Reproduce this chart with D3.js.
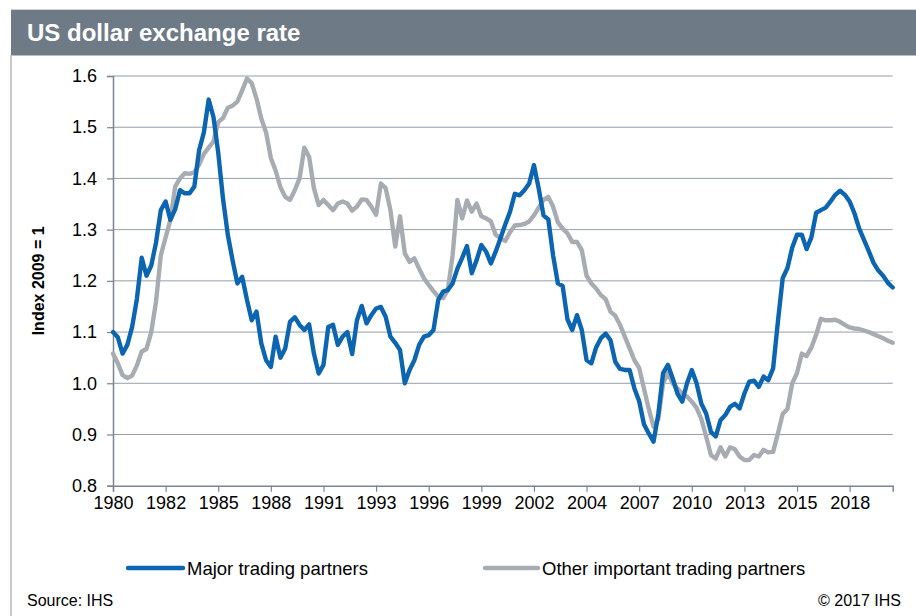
<!DOCTYPE html>
<html>
<head>
<meta charset="utf-8">
<script src="https://cdn.jsdelivr.net/npm/d3@7"></script>
<style>
  html, body { margin: 0; padding: 0; background: #fff; }
  svg { display: block; font-family: "Liberation Sans", Arial, sans-serif; }
</style>
</head>
<body>
<svg id="chart" width="916" height="616"></svg>
<script>
// Quarterly index, 1980Q1 .. 2020Q4 (2009 = 1)
const startYear = 1980;

const majorPartners = [
  1.100, 1.090, 1.058, 1.075, 1.110, 1.165, 1.245, 1.210, 1.230, 1.275,
  1.338, 1.355, 1.319, 1.340, 1.377, 1.371, 1.371, 1.384, 1.455, 1.490,
  1.554, 1.520, 1.450, 1.360, 1.290, 1.240, 1.195, 1.208, 1.163, 1.123,
  1.140, 1.078, 1.045, 1.032, 1.091, 1.050, 1.068, 1.120, 1.129, 1.114,
  1.104, 1.115, 1.058, 1.019, 1.036, 1.110, 1.114, 1.075, 1.091, 1.100,
  1.057, 1.123, 1.151, 1.117, 1.133, 1.146, 1.149, 1.130, 1.091, 1.079,
  1.065, 1.000, 1.026, 1.045, 1.075, 1.091, 1.094, 1.104, 1.163, 1.179,
  1.182, 1.195, 1.224, 1.245, 1.268, 1.215, 1.240, 1.270, 1.257, 1.234,
  1.257, 1.283, 1.310, 1.335, 1.370, 1.367, 1.377, 1.390, 1.426, 1.380,
  1.328, 1.320, 1.250, 1.195, 1.190, 1.125, 1.104, 1.133, 1.104, 1.045,
  1.039, 1.070, 1.088, 1.097, 1.084, 1.042, 1.028, 1.026, 1.026, 0.990,
  0.965, 0.920, 0.902, 0.886, 0.940, 1.020, 1.036, 1.010, 0.980, 0.964,
  1.000, 1.026, 1.000, 0.960, 0.941, 0.905, 0.896, 0.928, 0.938, 0.954,
  0.960, 0.951, 0.980, 1.003, 1.005, 0.993, 1.013, 1.006, 1.029, 1.120,
  1.205, 1.225, 1.265, 1.290, 1.290, 1.262, 1.285, 1.333, 1.338, 1.343,
  1.355, 1.368, 1.376, 1.368, 1.355, 1.332, 1.302, 1.280, 1.258, 1.235,
  1.220, 1.210, 1.196, 1.187
];

const otherPartners = [
  1.058, 1.039, 1.016, 1.010, 1.015, 1.035, 1.062, 1.067, 1.100, 1.160,
  1.250, 1.285, 1.319, 1.384, 1.400, 1.410, 1.409, 1.412, 1.427, 1.448,
  1.460, 1.472, 1.510, 1.518, 1.538, 1.542, 1.550, 1.572, 1.595, 1.586,
  1.556, 1.517, 1.490, 1.440, 1.415, 1.383, 1.364, 1.358, 1.377, 1.400,
  1.460, 1.442, 1.381, 1.348, 1.358, 1.348, 1.338, 1.351, 1.355, 1.351,
  1.337, 1.345, 1.359, 1.358, 1.345, 1.329, 1.390, 1.381, 1.338, 1.267,
  1.326, 1.254, 1.237, 1.244, 1.224, 1.205, 1.192, 1.180, 1.169, 1.166,
  1.182, 1.250, 1.358, 1.322, 1.357, 1.335, 1.351, 1.326, 1.322, 1.316,
  1.290, 1.283, 1.278, 1.295, 1.308, 1.309, 1.311, 1.316, 1.328, 1.343,
  1.358, 1.364, 1.345, 1.314, 1.302, 1.293, 1.276, 1.276, 1.260, 1.210,
  1.195, 1.185, 1.172, 1.164, 1.140, 1.132, 1.114, 1.091, 1.068, 1.045,
  1.030, 0.990, 0.950, 0.915, 0.930, 1.000, 1.020, 1.000, 0.990, 0.980,
  0.974, 0.964, 0.952, 0.930, 0.896, 0.860, 0.853, 0.875, 0.857, 0.875,
  0.871, 0.857, 0.850, 0.850, 0.860, 0.857, 0.870, 0.865, 0.866, 0.902,
  0.940, 0.950, 1.000, 1.020, 1.058, 1.053, 1.070, 1.095, 1.126, 1.123,
  1.123, 1.124, 1.120, 1.114, 1.109, 1.107, 1.106, 1.103, 1.100, 1.096,
  1.092, 1.088, 1.083, 1.079
];

// category labels, one per quarter
const quarters = majorPartners.map((d, i) => (startYear + Math.floor(i / 4)) + 'Q' + (i % 4 + 1));

// a tick every 11 quarters, labelled with the year
const xTickIndex = [0, 11, 22, 33, 44, 55, 66, 77, 88, 99, 110, 121, 132, 143, 154];
const xTickLabels = ['1980', '1982', '1985', '1988', '1991', '1993', '1996', '1999',
                     '2002', '2004', '2007', '2010', '2013', '2015', '2018'];
const yTicks = [0.8, 0.9, 1.0, 1.1, 1.2, 1.3, 1.4, 1.5, 1.6];

const seriesNames = ['Major trading partners', 'Other important trading partners'];
const seriesColors = ['#0b65b1', '#a7acb2'];

const svg = d3.select('#chart');
const W = 916, H = 616;
const plot = { left: 113, right: 892.7, top: 76, bottom: 485.7 };

// title bar and frame
svg.append('rect').attr('x', 11).attr('y', 9).attr('width', W - 11).attr('height', 1.2).attr('fill', '#cfd2d6');
svg.append('rect').attr('x', 11).attr('y', 10).attr('width', W - 11).attr('height', 45.5).attr('fill', '#6f7a87');
svg.append('line').attr('x1', 11).attr('x2', 11).attr('y1', 55).attr('y2', H)
  .attr('stroke', '#b3b8be').attr('stroke-width', 1.5);
svg.append('text').attr('x', 27).attr('y', 41)
  .attr('fill', '#fff').attr('font-size', 24).attr('font-weight', 'bold')
  .text('US dollar exchange rate');

const x = d3.scaleLinear().domain([0, quarters.length - 1]).range([plot.left, plot.right]);
const y = d3.scaleLinear().domain([0.8, 1.6]).range([plot.bottom, plot.top]);

// gridlines
svg.append('g')
  .selectAll('line')
  .data(yTicks.filter(v => v > 0.8))
  .join('line')
  .attr('x1', plot.left).attr('x2', plot.right)
  .attr('y1', d => y(d)).attr('y2', d => y(d))
  .attr('stroke', '#959eaa').attr('stroke-width', 1);

// y axis
const yAxis = svg.append('g')
  .attr('transform', `translate(${plot.left},0)`)
  .call(d3.axisLeft(y).tickValues(yTicks).tickFormat(d3.format('.1f')).tickSize(6).tickPadding(10));
yAxis.select('.domain').attr('stroke', '#7b8591').attr('stroke-width', 1.5);
yAxis.selectAll('.tick line').attr('stroke', '#7b8591').attr('stroke-width', 1.2);
yAxis.selectAll('.tick text').attr('font-size', 18).attr('fill', '#000')
  .attr('font-family', '"Liberation Sans", Arial, sans-serif');

// x axis
const xAxis = svg.append('g')
  .attr('transform', `translate(0,${plot.bottom})`)
  .call(d3.axisBottom(x).tickValues(xTickIndex)
    .tickFormat((d, i) => xTickLabels[i]).tickSizeOuter(0).tickSize(6).tickPadding(5));
xAxis.select('.domain').attr('stroke', '#7b8591').attr('stroke-width', 1.5);
xAxis.selectAll('.tick line').attr('stroke', '#7b8591').attr('stroke-width', 1.2);
xAxis.selectAll('.tick text').attr('font-size', 18).attr('fill', '#000')
  .attr('font-family', '"Liberation Sans", Arial, sans-serif');

// y axis title
svg.append('text')
  .attr('transform', `translate(44,${(plot.top + plot.bottom) / 2}) rotate(-90)`)
  .attr('text-anchor', 'middle')
  .attr('font-size', 16).attr('font-weight', 'bold')
  .text('Index 2009 = 1');

// lines
const line = d3.line().x((d, i) => x(i)).y(d => y(d));
[otherPartners, majorPartners].forEach((s, k) => {
  svg.append('path')
    .datum(s)
    .attr('fill', 'none')
    .attr('stroke', seriesColors[1 - k])
    .attr('stroke-width', 4.4)
    .attr('stroke-linejoin', 'round')
    .attr('stroke-linecap', 'round')
    .attr('d', line);
});

// legend
const legendPos = [{ x: 128, len: 55 }, { x: 485, len: 53 }];
seriesNames.forEach((name, k) => {
  const g = svg.append('g').attr('transform', `translate(${legendPos[k].x},568)`);
  g.append('line').attr('x1', 0).attr('x2', legendPos[k].len)
    .attr('stroke', seriesColors[k]).attr('stroke-width', 4.4).attr('stroke-linecap', 'round');
  g.append('text').attr('x', legendPos[k].len + 4).attr('y', 6.5)
    .attr('font-size', 18.5).text(name);
});

// footer
svg.append('text').attr('x', 27).attr('y', 606).attr('font-size', 16).text('Source: IHS');
svg.append('text').attr('x', 901).attr('y', 606).attr('font-size', 16)
  .attr('text-anchor', 'end').text('\u00a9 2017 IHS');
</script>
</body>
</html>
